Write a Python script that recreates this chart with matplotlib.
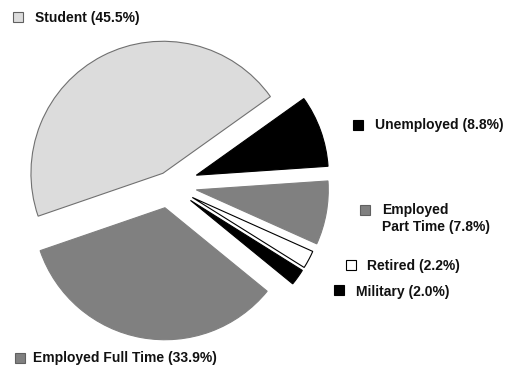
import matplotlib.pyplot as plt
from matplotlib.patches import Rectangle

# Employment status of respondents (percent)
categories = ["Unemployed", "Employed Part Time", "Retired", "Military",
              "Employed Full Time", "Student"]
shares = [8.8, 7.8, 2.2, 2.0, 33.9, 45.5]
label_texts = ["Unemployed (8.8%)", "Employed\nPart Time (7.8%)", "Retired (2.2%)",
               "Military (2.0%)", "Employed Full Time (33.9%)", "Student (45.5%)"]

fills = ["#000000", "#808080", "#ffffff", "#000000", "#808080", "#dcdcdc"]
edges = ["#000000", "#808080", "#000000", "#000000", "#808080", "#707070"]
explode = [0.22, 0.21, 0.20, 0.20, 0.175, 0.10]

W, H = 508, 367
R_PX = 132.0          # pie radius in pixels
CX, CY = 169.0, 185.0  # pie centre in pixels (from top-left)

fig = plt.figure(figsize=(W / 100, H / 100), dpi=100)
ax = fig.add_axes([0, 0, 1, 1])

wedges, _ = ax.pie(shares, explode=explode, colors=fills, startangle=35.5,
                   counterclock=False, radius=1.0,
                   wedgeprops=dict(linewidth=0.8))
for w, ec in zip(wedges, edges):
    w.set_edgecolor(ec)

ax.set_xlim(-CX / R_PX, (W - CX) / R_PX)
ax.set_ylim(-(H - CY) / R_PX, CY / R_PX)
ax.set_aspect("auto")
ax.axis("off")

# Key entries: square position (left, centre-y) and text start, in pixels
key_layout = [
    (353, 125, 375, 125),   # Unemployed
    (360, 210, 382, 218.5), # Employed Part Time
    (346, 265, 367, 266),   # Retired
    (334, 290, 356, 292),   # Military
    (15, 358, 33, 358),     # Employed Full Time
    (13, 17, 35, 18),       # Student
]
SQ = 10
for (sx, sy, tx, ty), text, fc, ec in zip(key_layout, label_texts, fills, edges):
    sq_ec = "#000000" if fc in ("#ffffff", "#000000") else "#606060"
    fig.patches.append(Rectangle(((sx) / W, 1 - (sy + SQ / 2) / H), SQ / W, SQ / H,
                                 transform=fig.transFigure, facecolor=fc,
                                 edgecolor=sq_ec, linewidth=0.8))
    fig.text(tx / W, 1 - ty / H, text, ha="left", va="center",
             fontsize=10, fontweight="bold", family="Liberation Sans",
             color="#111111", linespacing=1.2)

fig.savefig("out.png", dpi=100)
